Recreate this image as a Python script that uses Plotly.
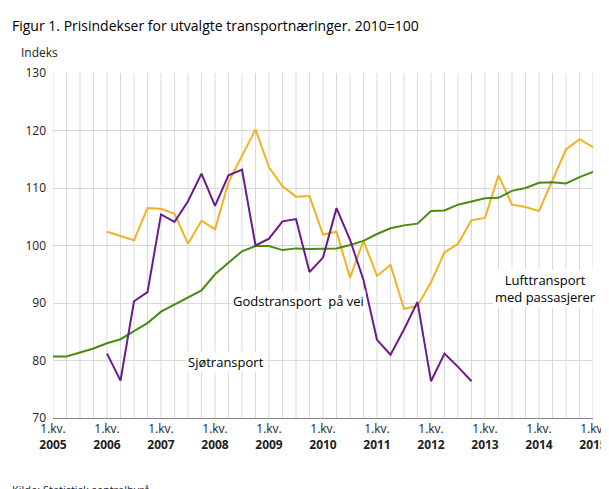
import plotly.graph_objects as go

years = list(range(2005, 2016))
quarters = list(range(41))  # 2005Q1 .. 2015Q1
tick_labels = [f"1.kv.<br><b>{y}</b>" for y in years]

gods = [80.7, 80.7, 81.4, 82.1, 83.0, 83.7, 85.1, 86.5, 88.5, 89.7, 91.0, 92.2,
        95.0, 97.0, 99.0, 99.9, 99.9, 99.2, 99.5, 99.4, 99.5, 99.5, 100.1, 100.8,
        102.0, 103.0, 103.5, 103.8, 106.0, 106.1, 107.1, 107.6, 108.2, 108.3, 109.5, 110.0,
        110.9, 111.0, 110.8, 111.9, 112.8]
luft = [102.4, 101.7, 100.9, 106.5, 106.4, 105.5, 100.3, 104.3, 102.8, 111.0, 115.6, 120.2,
        113.6, 110.3, 108.5, 108.6, 101.9, 102.4, 94.4, 100.8, 94.7, 96.6, 89.0, 89.5,
        93.6, 98.8, 100.3, 104.4, 104.8, 112.2, 107.1, 106.7, 106.0, 111.2, 116.7, 118.5, 117.1]
sjo = [81.2, 76.5, 90.3, 91.9, 105.4, 104.1, 107.7, 112.5, 106.9, 112.2, 113.2, 100.0,
       101.2, 104.2, 104.6, 95.4, 97.9, 106.5, 101.0, 94.0, 83.6, 81.0, 85.4, 90.2,
       76.4, 81.2, 78.9, 76.4]

fig = go.Figure()
fig.add_trace(go.Scatter(x=quarters[4:4+len(luft)], y=luft, mode="lines",
                         line=dict(color="#F0B323", width=2), name="Lufttransport"))
fig.add_trace(go.Scatter(x=quarters, y=gods, mode="lines",
                         line=dict(color="#4A8C12", width=2), name="Godstransport"))
fig.add_trace(go.Scatter(x=quarters[4:4+len(sjo)], y=sjo, mode="lines",
                         line=dict(color="#6B1A8C", width=2), name="Sjøtransport"))

fnt = dict(family="Open Sans", size=12, color="#222")
fig.update_layout(
    width=609, height=489, showlegend=False,
    paper_bgcolor="white", plot_bgcolor="white",
    margin=dict(l=45, r=24, t=65, b=79),
    font=fnt,
    xaxis=dict(range=[0, 40], tickmode="array", tickvals=list(range(0, 41, 4)),
               ticktext=tick_labels, showgrid=False, zeroline=False, automargin=False,
               showline=True, linecolor="#888", ticks="", tickfont=fnt),
    yaxis=dict(range=[70, 130], dtick=10, gridcolor="#d9d9d9", zeroline=False,
               automargin=False, ticks="", tickfont=fnt, ticklabelstandoff=6),
    annotations=[
        dict(text="Figur 1. Prisindekser for utvalgte transportnæringer. 2010=100", xref="paper", yref="paper",
             x=-0.08, y=1.139, xanchor="left", yanchor="middle", showarrow=False,
             font=dict(family="Open Sans", size=14, color="#000")),
        dict(text="Indeks", xref="paper", yref="paper", x=-0.063, y=1.058, xanchor="left",
             yanchor="middle", showarrow=False, font=fnt),
        dict(text="Kilde: Statistisk sentralbyrå.", xref="paper", yref="paper", x=-0.08, y=-0.206,
             xanchor="left", yanchor="middle", showarrow=False, font=dict(family="Open Sans", size=11, color="#222")),
        dict(text="Godstransport  på vei", x=18.2, y=90.3, showarrow=False, bgcolor="white",
             font=dict(family="Open Sans", size=13, color="#000")),
        dict(text="Sjøtransport", x=12.8, y=79.8, showarrow=False, bgcolor="white",
             font=dict(family="Open Sans", size=13, color="#000")),
        dict(text="Lufttransport<br>med passasjerer", x=36.5, y=92.5, showarrow=False, bgcolor="white",
             font=dict(family="Open Sans", size=13, color="#000")),
    ],
)
for q in range(41):
    fig.add_shape(type="line", x0=q, x1=q, y0=70, y1=130, xref="x", yref="y",
                  line=dict(color="#d9d9d9", width=1), layer="below")
fig.write_html("out.html")
